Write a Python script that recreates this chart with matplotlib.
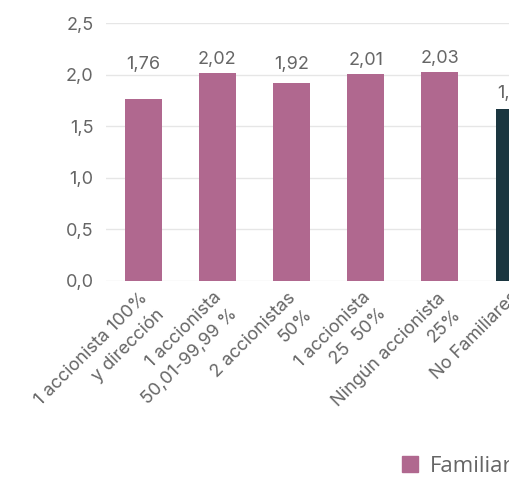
import matplotlib.pyplot as plt
from matplotlib.patches import Patch

# datos del gráfico
categorias = ['1 accionista 100%\ny dirección', '1 accionista\n50,01-99,99 %',
              '2 accionistas\n50%', '1 accionista\n25  50%',
              'Ningún accionista\n25%', 'No Familiares']
valores = [1.76, 2.02, 1.92, 2.01, 2.03, 1.67]
etiquetas = ['1,76', '2,02', '1,92', '2,01', '2,03', '1,67']
colores = ['#b0688f'] * 5 + ['#1b3640']
yticks = [0.0, 0.5, 1.0, 1.5, 2.0, 2.5]
yticklabels = ['0,0', '0,5', '1,0', '1,5', '2,0', '2,5']
# separación de cada etiqueta sobre su barra (puntos)
sep_etiquetas = [22, 6, 10.3, 6.5, 6.3, 7.6]

plt.rcParams['font.family'] = ['Inter', 'DejaVu Sans']
gris = '#666666'

fig = plt.figure(figsize=(5.09, 4.79), dpi=100)
W, H = 509, 479
# el eje se extiende más allá del borde derecho (gráfico recortado)
ax = fig.add_axes([106 / W, (H - 280.7) / H, 74.2 * len(valores) / W, 257.4 / H])

x = list(range(len(valores)))
ax.bar(x, valores, width=0.5, color=colores, zorder=2)
for i, v in enumerate(valores):
    ax.annotate(etiquetas[i], (i, v), xytext=(0, sep_etiquetas[i]),
                textcoords='offset points', ha='center', va='baseline',
                fontsize=13, color=gris)

ax.set_xlim(-0.5, len(valores) - 0.5)
ax.set_ylim(0, 2.5)
ax.set_yticks(yticks)
ax.set_yticklabels(yticklabels, fontsize=13, color=gris)
ax.set_xticks(x)
ax.set_xticklabels([])
# etiquetas del eje x giradas, alineadas a la derecha en cada categoría
for i, cat in enumerate(categorias):
    ax.annotate(cat, (i, 0), xycoords=('data', 'axes fraction'),
                xytext=(-3, -6), textcoords='offset points',
                rotation=45, rotation_mode='anchor', ha='right', va='top',
                multialignment='right', linespacing=1.45, fontsize=13, color=gris)
ax.tick_params(length=0)
ax.tick_params(axis='y', pad=9)
ax.grid(axis='y', color='#e6e6e6', linewidth=1, zorder=0)
for s in ax.spines.values():
    s.set_visible(False)

handles = [Patch(color='#b0688f', label='Familiares'),
           Patch(color='#1b3640', label='No Familiares')]
fig.legend(handles=handles, loc='lower left', bbox_to_anchor=(402 / W, 2 / H),
           ncol=2, frameon=False, handlelength=0.72, handleheight=0.72,
           handletextpad=0.55, borderpad=0, borderaxespad=0, labelcolor=gris,
           prop={'family': 'Open Sans', 'size': 16})

fig.savefig('out.png', dpi=100)
